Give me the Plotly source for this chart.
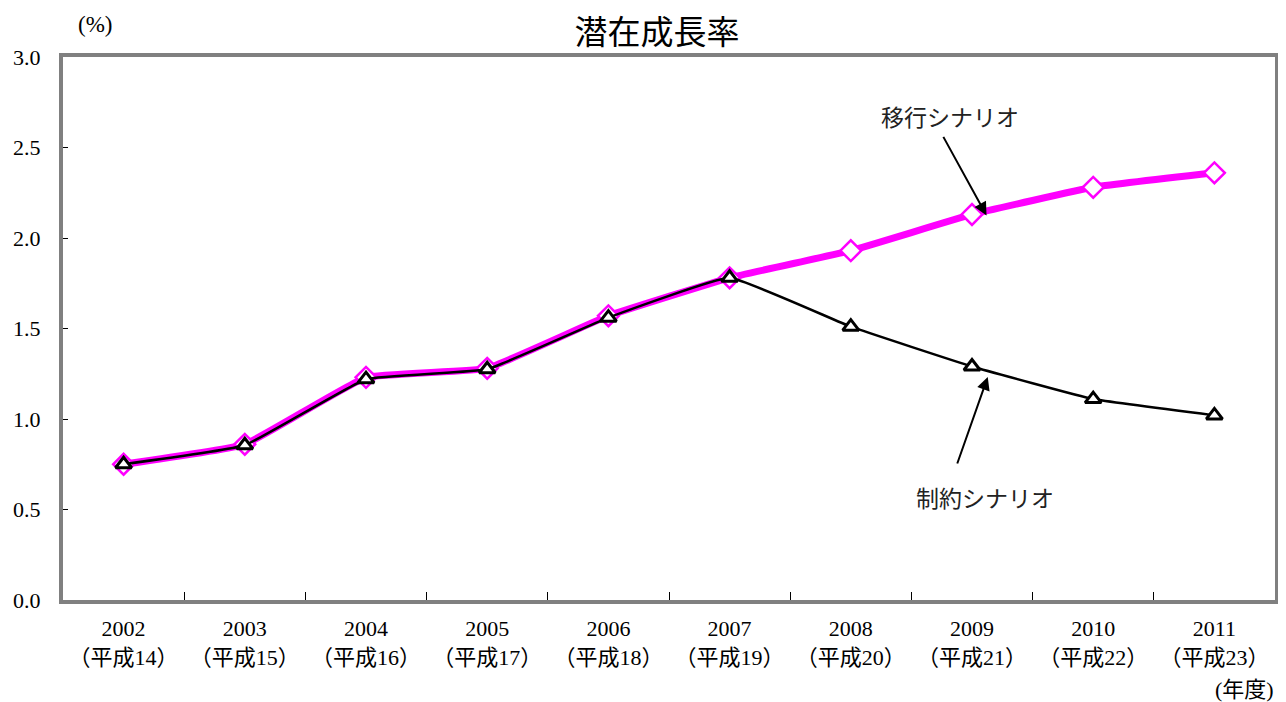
import plotly.graph_objects as go

years = ["2002", "2003", "2004", "2005", "2006", "2007", "2008", "2009", "2010", "2011"]
heisei = ["（平成14）", "（平成15）", "（平成16）", "（平成17）", "（平成18）",
          "（平成19）", "（平成20）", "（平成21）", "（平成22）", "（平成23）"]
migration = [0.75, 0.86, 1.23, 1.28, 1.57, 1.78, 1.93, 2.13, 2.28, 2.36]
constraint = [0.75, 0.855, 1.22, 1.275, 1.56, 1.78, 1.51, 1.29, 1.11, 1.02]
y_ticks = [0.0, 0.5, 1.0, 1.5, 2.0, 2.5, 3.0]

xs = list(range(len(years)))
serif = "Liberation Serif, Noto Sans CJK JP"
jp = "Noto Sans CJK JP"

# page body has an 8px default margin; size the figure to fit the window
OFF = 8
W, H = 1286 - OFF, 702 - OFF
L, R, T, B = 63 - OFF, 11, 57 - OFF, 102
PW, PH = W - L - R, H - T - B


def px(x):
    return (x - OFF - L) / PW


def py(y):
    return (H - B - (y - OFF)) / PH


fig = go.Figure()
fig.add_trace(go.Scatter(
    x=xs, y=migration, mode="lines+markers", name="移行シナリオ",
    line=dict(color="#FF00FF", width=7, shape="spline", smoothing=0.3),
    marker=dict(symbol="diamond", size=16, color="white",
                line=dict(color="#FF00FF", width=2.5)),
))
fig.add_trace(go.Scatter(
    x=xs, y=constraint, mode="lines+markers", name="制約シナリオ",
    line=dict(color="black", width=2.5, shape="spline", smoothing=0.3),
    marker=dict(symbol="triangle-up", size=14, color="white",
                line=dict(color="black", width=3)),
))

fig.update_layout(
    width=W, height=H,
    margin=dict(l=L, r=R, t=T, b=B),
    paper_bgcolor="white", plot_bgcolor="white",
    showlegend=False,
    title=dict(text="潜在成長率", xref="container", x=(657 - OFF) / W, xanchor="center",
               yref="container", y=1 - (32 - OFF) / H, yanchor="middle",
               font=dict(family=jp, size=33, color="black", weight=400)),
    xaxis=dict(
        range=[-0.5, len(years) - 0.5], automargin=False,
        tickmode="array", tickvals=xs,
        ticktext=[f"{y}<br>{h}" for y, h in zip(years, heisei)],
        ticks="", showgrid=False, zeroline=False,
        showline=True, linecolor="#808080", linewidth=4, mirror=True,
        tickfont=dict(family=serif, size=22, color="black"),
        ticklabelstandoff=6,
        minor=dict(tickvals=[i + 0.5 for i in xs[:-1]], ticks="inside",
                   ticklen=8, tickcolor="black", tickwidth=1, showgrid=False),
    ),
    yaxis=dict(
        range=[0, 3.0], automargin=False, tickmode="array", tickvals=y_ticks,
        ticktext=[f"{v:.1f}" for v in y_ticks],
        ticks="inside", ticklen=5, tickcolor="black",
        showgrid=False, zeroline=False,
        showline=True, linecolor="#808080", linewidth=4, mirror=True,
        tickfont=dict(family=serif, size=22, color="black"),
        ticklabelstandoff=14,
    ),
)

fig.add_annotation(text="(%)", xref="paper", yref="paper", x=px(95), y=py(25),
                   xanchor="center", yanchor="middle", showarrow=False,
                   font=dict(family=serif, size=23, color="black"))
fig.add_annotation(text="(年度)", xref="paper", yref="paper", x=px(1244), y=py(689),
                   xanchor="center", yanchor="middle", showarrow=False,
                   font=dict(family=serif, size=22, color="black"))

# labels
fig.add_annotation(text="移行シナリオ", xref="paper", yref="paper", x=px(950), y=py(116),
                   xanchor="center", yanchor="middle", showarrow=False,
                   font=dict(family=jp, size=23, color="#222"))
fig.add_annotation(text="制約シナリオ", xref="paper", yref="paper", x=px(985), y=py(497),
                   xanchor="center", yanchor="middle", showarrow=False,
                   font=dict(family=jp, size=23, color="#222"))

# arrows (empty text, tail offset in pixels)
fig.add_annotation(text="", x=7.12, y=2.125, xref="x", yref="y",
                   ax=-44, ay=-80, showarrow=True, arrowhead=2, arrowsize=1.3,
                   arrowwidth=2, arrowcolor="black", standoff=0)
fig.add_annotation(text="", x=7.13, y=1.232, xref="x", yref="y",
                   ax=-31, ay=88, showarrow=True, arrowhead=2, arrowsize=1.3,
                   arrowwidth=2, arrowcolor="black", standoff=0)

fig.write_html("out.html")
